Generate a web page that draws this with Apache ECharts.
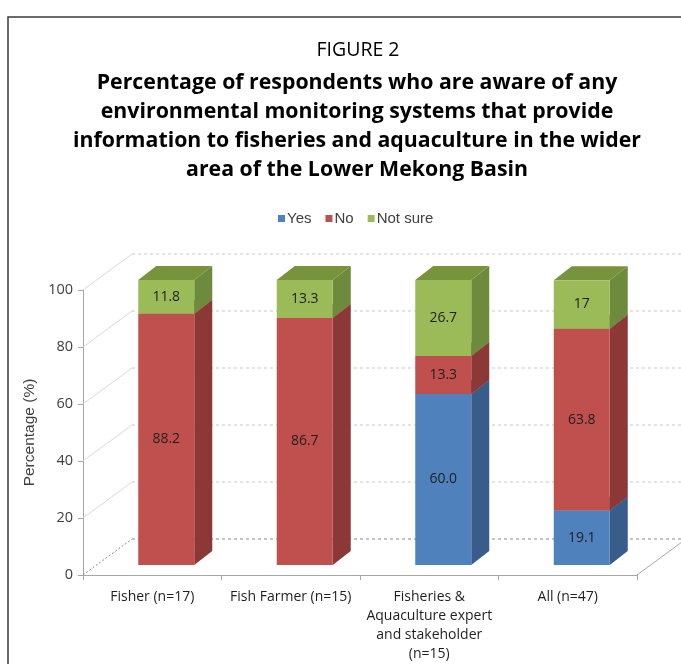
<!DOCTYPE html>
<html>
<head>
<meta charset="utf-8">
<style>
  html, body { margin: 0; padding: 0; background: #ffffff; }
  #chart { width: 681px; height: 664px; }
</style>
<script src="https://cdn.jsdelivr.net/npm/echarts@6/dist/echarts.min.js"></script>
</head>
<body>
<div id="chart"></div>
<script>
// Survey results: share of respondents aware of environmental monitoring systems
const categories = [
  'Fisher (n=17)',
  'Fish Farmer (n=15)',
  'Fisheries &\nAquaculture expert\nand stakeholder\n(n=15)',
  'All (n=47)'
];
const seriesNames = ['Yes', 'No', 'Not sure'];
// values kept as printed so the labels read exactly as the figures
const yesValues     = ['0', '0', '60.0', '19.1'];
const noValues      = ['88.2', '86.7', '13.3', '63.8'];
const notSureValues = ['11.8', '13.3', '26.7', '17'];
const yTicks = [0, 20, 40, 60, 80, 100];

// face colours: front, side, top
const palette = [
  { front: '#4F81BD', side: '#385D8A', top: '#3F6797' },
  { front: '#C0504D', side: '#8C3836', top: '#9A403D' },
  { front: '#9BBB59', side: '#6E8B3D', top: '#77933C' }
];

// pseudo-3D geometry (pixels)
const WALL_DX = 49, WALL_DY = -36;     // floor depth
const BAR_OFF_X = 14, BAR_OFF_Y = -10; // bar front face inside the floor
const BAR_DX = 18, BAR_DY = -14;       // bar depth
const BAR_W = 56;

const FONT = '"Open Sans", "Noto Sans", sans-serif';

// stacked extents per series
const valueSets = [yesValues, noValues, notSureValues];
const stacked = [];
const running = categories.map(() => 0);
valueSets.forEach((vals, s) => {
  stacked.push(vals.map((txt, i) => {
    const v = parseFloat(txt);
    const base = running[i];
    running[i] += v;
    return { value: [i, base, base + v, v], label: txt };
  }));
});

function barRenderer(s) {
  const col = palette[s];
  return function (params, api) {
    const cat = api.value(0), base = api.value(1), top = api.value(2);
    if (top - base <= 0) return null;
    const pb = api.coord([cat, base]);
    const pt = api.coord([cat, top]);
    const x = pb[0] - BAR_W / 2 + BAR_OFF_X;
    const yb = pb[1] + BAR_OFF_Y;
    const yt = pt[1] + BAR_OFF_Y;
    const item = stacked[s][params.dataIndex];
    return {
      type: 'group',
      children: [
        {
          type: 'polygon',
          shape: { points: [[x + BAR_W, yt], [x + BAR_W + BAR_DX, yt + BAR_DY], [x + BAR_W + BAR_DX, yb + BAR_DY], [x + BAR_W, yb]] },
          style: { fill: col.side }
        },
        {
          type: 'polygon',
          shape: { points: [[x, yt], [x + BAR_DX, yt + BAR_DY], [x + BAR_W + BAR_DX, yt + BAR_DY], [x + BAR_W, yt]] },
          style: { fill: col.top }
        },
        {
          type: 'rect',
          shape: { x: x, y: yt, width: BAR_W, height: yb - yt },
          style: { fill: col.front }
        },
        {
          type: 'text',
          style: {
            text: item.label,
            x: x + BAR_W / 2,
            y: (yt + yb) / 2,
            align: 'center',
            verticalAlign: 'middle',
            fill: '#1f1f1f',
            font: '14px ' + FONT
          }
        }
      ]
    };
  };
}

// side wall diagonals, back wall gridlines and floor edge
function wallRenderer(params, api) {
  const v = api.value(0);
  const cs = params.coordSys;
  const y = api.coord([0, v])[1];
  const left = cs.x, right = cs.x + cs.width;
  const isFloor = v === 0;
  const children = [
    {
      type: 'line',
      shape: { x1: left, y1: y, x2: left + WALL_DX, y2: y + WALL_DY },
      style: isFloor ? { stroke: '#8a8a8a', lineWidth: 1, lineDash: [2, 2] } : { stroke: '#d9d9d9', lineWidth: 1 }
    },
    {
      type: 'line',
      shape: { x1: left + WALL_DX, y1: y + WALL_DY, x2: right + WALL_DX, y2: y + WALL_DY },
      style: { stroke: isFloor ? '#8a8a8a' : '#c8c8c8', lineWidth: 1, lineDash: [3, 3] }
    }
  ];
  if (isFloor) {
    children.push({
      type: 'line',
      shape: { x1: right, y1: y, x2: right + WALL_DX, y2: y + WALL_DY },
      style: { stroke: '#a6a6a6', lineWidth: 1 }
    });
  }
  return { type: 'group', children: children };
}

const chart = echarts.init(document.getElementById('chart'), null, { renderer: 'canvas' });

chart.setOption({
  backgroundColor: '#ffffff',
  animation: false,
  title: [
    {
      text: 'FIGURE 2',
      left: 353,
      textAlign: 'center',
      top: 35,
      textStyle: { fontFamily: FONT, fontSize: 19.5, fontWeight: 'normal', color: '#000000' }
    },
    {
      text: 'Percentage of respondents who are aware of any\nenvironmental monitoring systems that provide\ninformation to fisheries and aquaculture in the wider\narea of the Lower Mekong Basin',
      left: 352,
      textAlign: 'center',
      top: 63,
      textStyle: { fontFamily: FONT, fontSize: 21.3, fontWeight: 'bold', color: '#000000', lineHeight: 29 }
    }
  ],
  legend: {
    top: 206,
    left: 273,
    icon: 'rect',
    itemWidth: 7,
    itemHeight: 7,
    itemGap: 14,
    textStyle: { fontFamily: '"Liberation Sans", Arial, sans-serif', fontSize: 15, color: '#404040', padding: [0, 0, 0, -3] },
    data: seriesNames
  },
  grid: { left: 83, right: 44, top: 290, bottom: 88 },
  xAxis: {
    type: 'category',
    data: categories,
    axisLine: { lineStyle: { color: '#a6a6a6' } },
    axisTick: { show: true, length: 5, lineStyle: { color: '#a6a6a6' } },
    axisLabel: { fontFamily: FONT, fontSize: 14, color: '#1f1f1f', margin: 13, lineHeight: 19, interval: 0 },
    splitLine: { show: false }
  },
  yAxis: {
    type: 'value',
    min: 0,
    max: 100,
    interval: 20,
    name: 'Percentage (%)',
    nameLocation: 'middle',
    nameGap: 42,
    nameTextStyle: { fontFamily: '"Liberation Sans", Arial, sans-serif', fontSize: 15.5, color: '#404040' },
    axisLine: { show: true, lineStyle: { color: '#a6a6a6' } },
    axisTick: { show: true, length: 5, lineStyle: { color: '#a6a6a6' } },
    axisLabel: { fontFamily: FONT, fontSize: 14.5, color: '#404040', margin: 10 },
    splitLine: { show: false }
  },
  graphic: [
    {
      type: 'polyline',
      shape: { points: [[8, 664], [8, 17], [681, 17]] },
      style: { stroke: '#3a3a3a', lineWidth: 1.5, fill: null },
      silent: true
    }
  ],
  series: [
    {
      type: 'custom',
      name: 'walls',
      renderItem: wallRenderer,
      data: yTicks.map(v => [v]),
      encode: { y: 0 },
      silent: true,
      z: 1
    }
  ].concat(seriesNames.map((name, s) => ({
    type: 'custom',
    name: name,
    renderItem: barRenderer(s),
    itemStyle: { color: palette[s].front },
    data: stacked[s].map(d => d.value),
    encode: { x: 0, y: 2 },
    z: 3 + s
  })))
});
</script>
</body>
</html>
